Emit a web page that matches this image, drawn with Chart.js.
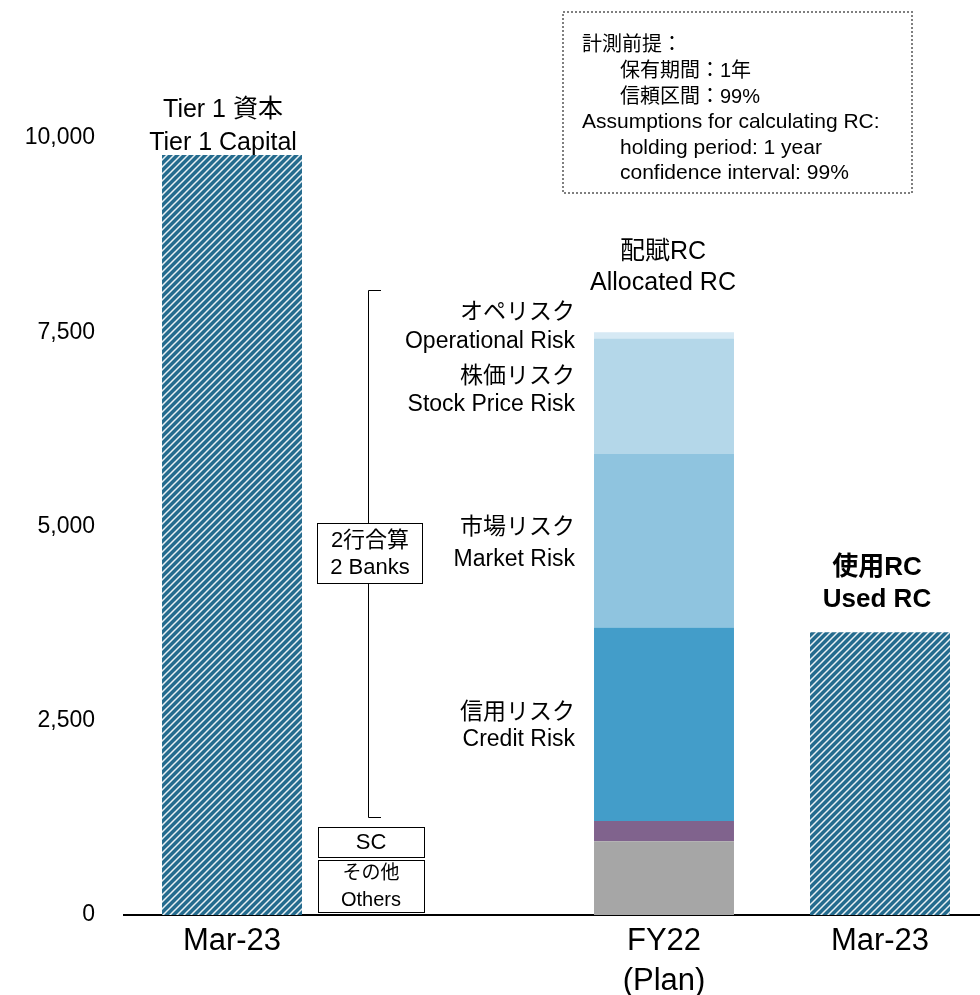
<!DOCTYPE html>
<html>
<head>
<meta charset="utf-8">
<script src="https://cdn.jsdelivr.net/npm/chart.js@4"></script>
<style>
html, body { margin: 0; padding: 0; background: #fff; overflow: hidden; }
#wrap { width: 988px; height: 995px; }
</style>
</head>
<body>
<div id="wrap"><canvas id="c" width="988" height="995" style="width:988px;height:995px"></canvas></div>
<script>
// ---- data ----
const categories = ['Mar-23', '', ['FY22', '(Plan)'], 'Mar-23'];
const tier1Capital = [9780, null, null, null];
const usedRC = [null, null, null, 3640];
const others = [null, null, 950, null];
const sc = [null, null, 260, null];
const creditRisk = [null, null, 2490, null];
const marketRisk = [null, null, 2240, null];
const stockRisk = [null, null, 1480, null];
const operationalRisk = [null, null, 80, null];
const yTicks = [0, 2500, 5000, 7500, 10000];

const FONT = "'Liberation Sans', Arial, 'Noto Sans CJK JP', sans-serif";

function hatch() {
  const s = 7;
  const t = document.createElement('canvas');
  t.width = s; t.height = s;
  const g = t.getContext('2d');
  g.fillStyle = '#246b8e';
  g.fillRect(0, 0, s, s);
  g.strokeStyle = 'rgba(255,255,255,0.9)';
  g.lineWidth = 1.5;
  g.beginPath();
  g.moveTo(-1, s + 1); g.lineTo(s + 1, -1);
  g.moveTo(-1, 1); g.lineTo(1, -1);
  g.moveTo(s - 1, s + 1); g.lineTo(s + 1, s - 1);
  g.stroke();
  return document.getElementById('c').getContext('2d').createPattern(t, 'repeat');
}
const pat = hatch();

const annot = {
  id: 'annot',
  afterDraw(chart) {
    const ctx = chart.ctx;
    const x = chart.scales.x;
    ctx.save();
    ctx.fillStyle = '#000';
    ctx.textBaseline = 'middle';
    function txt(s, px, py, size, align, bold) {
      ctx.font = (bold ? 'bold ' : '') + size + 'px ' + FONT;
      ctx.textAlign = align || 'center';
      ctx.fillText(s, px, py);
    }
    const c0 = x.getPixelForValue(0), c2 = x.getPixelForValue(2), c3 = x.getPixelForValue(3);
    // headings above bars
    txt('Tier 1 資本', c0 - 9, 110, 25);
    txt('Tier 1 Capital', c0 - 9, 143, 25);
    txt('配賦RC', c2 - 1, 252, 25);
    txt('Allocated RC', c2 - 1, 283, 25);
    txt('使用RC', c3 - 3, 568, 26, 'center', true);
    txt('Used RC', c3 - 3, 600, 26, 'center', true);
    // risk labels
    const rx = 575;
    txt('オペリスク', rx, 313, 23, 'right');
    txt('Operational Risk', rx, 342, 23, 'right');
    txt('株価リスク', rx, 377, 23, 'right');
    txt('Stock Price Risk', rx, 405, 23, 'right');
    txt('市場リスク', rx, 528, 23, 'right');
    txt('Market Risk', rx, 560, 23, 'right');
    txt('信用リスク', rx, 713, 23, 'right');
    txt('Credit Risk', rx, 740, 23, 'right');
    // bracket
    ctx.strokeStyle = '#000';
    ctx.lineWidth = 1;
    ctx.beginPath();
    ctx.moveTo(381, 290.5); ctx.lineTo(368.5, 290.5); ctx.lineTo(368.5, 817.5); ctx.lineTo(381, 817.5);
    ctx.stroke();
    // 2 banks box
    ctx.fillStyle = '#fff';
    ctx.fillRect(317, 523, 105, 60);
    ctx.strokeRect(317.5, 523.5, 105, 60);
    ctx.fillStyle = '#000';
    txt('2行合算', 370, 541, 22);
    txt('2 Banks', 370, 568, 22);
    // SC / Others boxes
    ctx.strokeRect(318.5, 827.5, 106, 30);
    txt('SC', 371, 843, 22);
    ctx.strokeRect(318.5, 860.5, 106, 52);
    txt('その他', 371, 874, 19);
    txt('Others', 371, 900, 20);
    // note box
    ctx.strokeStyle = '#7f7f7f';
    ctx.lineWidth = 2;
    ctx.setLineDash([2, 2]);
    ctx.strokeRect(563, 12, 349, 181);
    ctx.setLineDash([]);
    txt('計測前提：', 582, 45, 20, 'left');
    txt('保有期間：1年', 620, 71, 20, 'left');
    txt('信頼区間：99%', 620, 97, 20, 'left');
    txt('Assumptions for calculating RC:', 582, 122, 21, 'left');
    txt('holding period: 1 year', 620, 148, 21, 'left');
    txt('confidence interval: 99%', 620, 173, 21, 'left');
    ctx.restore();
  }
};

const base = { borderWidth: 0, categoryPercentage: 1, barPercentage: 0.648 };
new Chart(document.getElementById('c'), {
  type: 'bar',
  data: {
    labels: categories,
    datasets: [
      Object.assign({ label: 'Tier 1 Capital', data: tier1Capital, backgroundColor: pat }, base),
      Object.assign({ label: 'Used RC', data: usedRC, backgroundColor: pat }, base),
      Object.assign({ label: 'Others', data: others, backgroundColor: '#a6a6a6' }, base),
      Object.assign({ label: 'SC', data: sc, backgroundColor: '#80638d' }, base),
      Object.assign({ label: 'Credit Risk', data: creditRisk, backgroundColor: '#439dc9' }, base),
      Object.assign({ label: 'Market Risk', data: marketRisk, backgroundColor: '#8fc4df' }, base),
      Object.assign({ label: 'Stock Price Risk', data: stockRisk, backgroundColor: '#b4d7e9' }, base),
      Object.assign({ label: 'Operational Risk', data: operationalRisk, backgroundColor: '#d6e9f4' }, base)
    ]
  },
  options: {
    responsive: false,
    animation: false,
    devicePixelRatio: 1,
    layout: { padding: { top: 138, left: 0, right: 0, bottom: 0 } },
    plugins: { legend: { display: false }, tooltip: { enabled: false } },
    scales: {
      x: {
        stacked: true,
        grid: { display: false, drawTicks: false },
        border: { display: true, color: '#000', width: 2 },
        ticks: { color: '#000', font: { family: FONT, size: 31, lineHeight: 1.3 }, padding: 6, maxRotation: 0, autoSkip: false },
        afterFit(s) { s.height = 80; }
      },
      y: {
        stacked: true,
        min: 0, max: 10000,
        grid: { display: false, drawTicks: false },
        border: { display: false },
        afterBuildTicks(s) { s.ticks = yTicks.map(v => ({ value: v })); },
        ticks: {
          color: '#000', font: { family: FONT, size: 23 }, padding: 29,
          callback: v => v.toLocaleString('en-US')
        },
        afterFit(s) { s.width = 124; }
      }
    }
  },
  plugins: [annot]
});
</script>
</body>
</html>
